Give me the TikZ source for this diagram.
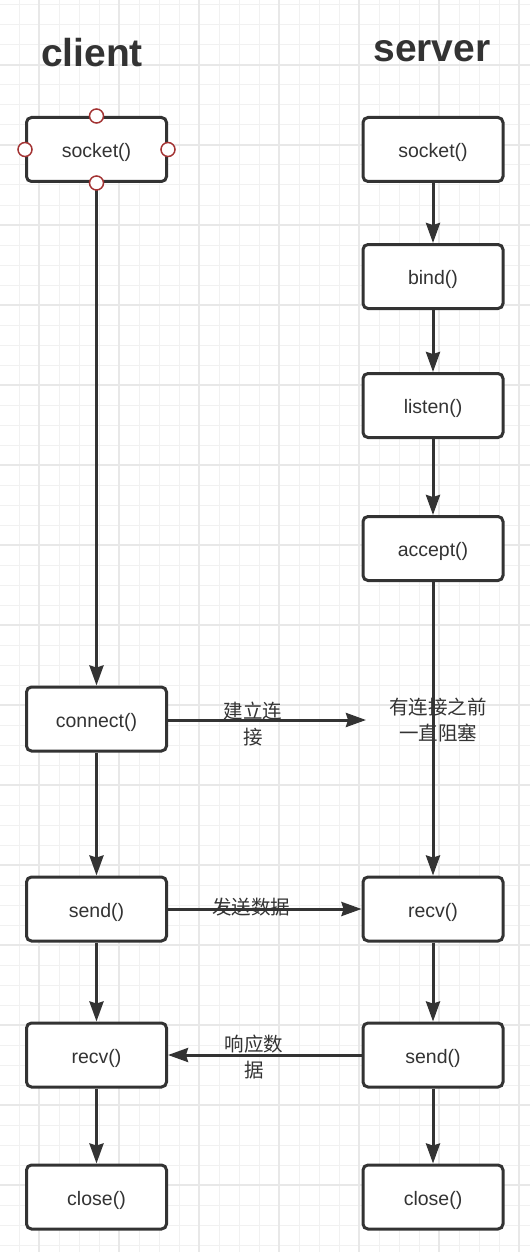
\documentclass[tikz,border=0pt]{standalone}
\usepackage{fontspec}
\setmainfont{Liberation Sans}
\newfontfamily\cjk{Noto Sans CJK SC}
\usetikzlibrary{arrows.meta}
\definecolor{ink}{HTML}{333333}
\definecolor{gminor}{HTML}{F1F1F1}
\definecolor{gmajor}{HTML}{E8E8E8}
\definecolor{pt}{HTML}{A33333}
\tikzset{
  box/.style={draw=ink, line width=3pt, rounded corners=5pt, fill=white,
    minimum width=140pt, minimum height=64pt, inner sep=0pt,
    text height=20pt, text depth=4pt,
    font=\fontsize{19.5}{22}\selectfont, text=ink},
  flow/.style={draw=ink, line width=3pt, -{Stealth[length=20pt,width=14pt,inset=2pt]}},
  lbl/.style={font=\cjk\fontsize{19.5}{26}\selectfont, text=ink, align=center, inner sep=0pt},
  title/.style={font=\bfseries\fontsize{39}{40}\selectfont, text=ink, anchor=base},
  cpt/.style={circle, draw=pt, fill=white, line width=1.5pt, minimum size=14pt, inner sep=0pt}
}
\begin{document}
\begin{tikzpicture}[x=1pt,y=-1pt]
\useasboundingbox (0,0) rectangle (530,1252);
% grid
\foreach \x in {-1,19,...,530} \draw[gminor, line width=1pt] (\x,0) -- (\x,1252);
\foreach \y in {5,25,...,1252} \draw[gminor, line width=1pt] (0,\y) -- (530,\y);
\foreach \x in {39,119,...,530} \draw[gmajor, line width=1.3pt] (\x,0) -- (\x,1252);
\foreach \y in {65,145,...,1252} \draw[gmajor, line width=1.3pt] (0,\y) -- (530,\y);
% titles
\node[title] (tc) at (92,67) {client};
\node[title] (ts) at (432,62) {server};
% client
\node[box] (cs) at (96.5,149.5) {socket()};
\node[box] (cc) at (96.5,719) {connect()};
\node[box] (csd) at (96.5,909) {send()};
\node[box] (crv) at (96.5,1055) {recv()};
\node[box] (ccl) at (96.5,1197) {close()};
% server
\node[box] (ss) at (433,149.5) {socket()};
\node[box] (sb) at (433,276.5) {bind()};
\node[box] (sl) at (433,405.5) {listen()};
\node[box] (sa) at (433,548.5) {accept()};
\node[box] (srv) at (433,909) {recv()};
\node[box] (ssd) at (433,1055) {send()};
\node[box] (scl) at (433,1197) {close()};
% client flow
\draw[flow] (cs.south) -- (cc.north);
\draw[flow] (cc.south) -- (csd.north);
\draw[flow] (csd.south) -- (crv.north);
\draw[flow] (crv.south) -- (ccl.north);
% server flow
\draw[flow] (ss.south) -- (sb.north);
\draw[flow] (sb.south) -- (sl.north);
\draw[flow] (sl.south) -- (sa.north);
\draw[flow] (sa.south) -- (srv.north);
\draw[flow] (srv.south) -- (ssd.north);
\draw[flow] (ssd.south) -- (scl.north);
% cross arrows
\coordinate (ce) at (366,720);
\draw[flow] (cc.east |- ce) -- (ce);
\draw[flow] (csd.east) -- (srv.west);
\draw[flow] (ssd.west) -- (crv.east);
% labels
\node[lbl] (l1) at (253,724) {建立连\\接};
\node[lbl] (l2) at (251,907) {发送数据};
\node[lbl] (l3) at (254,1057) {响应数\\据};
\node[lbl] (l4) at (438,720) {有连接之前\\一直阻塞};
% connection points
\node[cpt] (p1) at (cs.north) {};
\node[cpt] (p2) at (cs.south) {};
\node[cpt] (p3) at (cs.west) {};
\node[cpt] (p4) at (cs.east) {};
\end{tikzpicture}
\end{document}
